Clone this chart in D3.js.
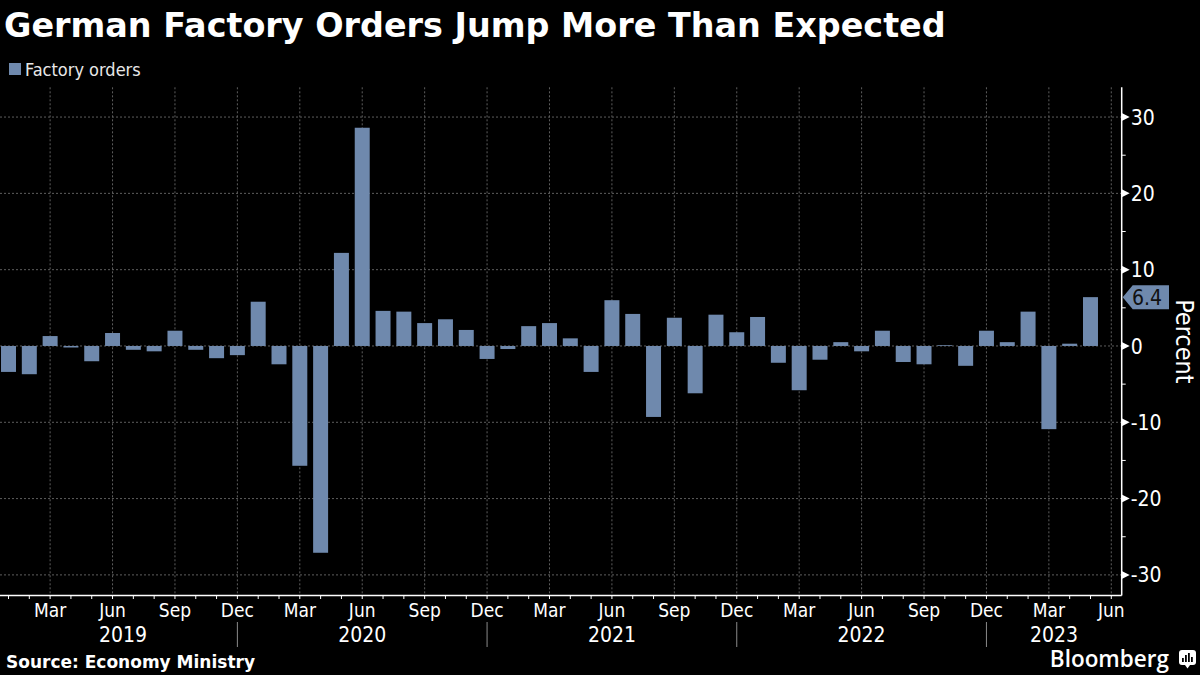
<!DOCTYPE html>
<html>
<head>
<meta charset="utf-8">
<script src="https://cdn.jsdelivr.net/npm/d3@7"></script>
<style>
  body { margin: 0; background: #000; }
  svg { display: block; }
</style>
</head>
<body>
<div id="place"></div>
<script>
// données (variation mensuelle, %)
const years = [2019, 2020, 2021, 2022, 2023];
const monthNames = ["Jan", "Feb", "Mar", "Apr", "May", "Jun", "Jul", "Aug", "Sep", "Oct", "Nov", "Dec"];
const lastMonth = "Jun 2023";
const orders = [
  -3.4, -3.7, 1.3, -0.2, -2.0, 1.7, -0.5, -0.7, 2.0, -0.5, -1.6, -1.2,
  5.8, -2.4, -15.7, -27.1, 12.2, 28.6, 4.6, 4.5, 3.0, 3.5, 2.1, -1.7,
  -0.4, 2.6, 3.0, 1.0, -3.4, 6.0, 4.2, -9.3, 3.7, -6.2, 4.1, 1.8,
  3.8, -2.2, -5.8, -1.8, 0.5, -0.7, 2.0, -2.1, -2.4, 0.1, -2.6, 2.0,
  0.5, 4.5, -10.9, 0.3, 6.4
];
const quarterLabels = ["Mar", "Jun", "Sep", "Dec"];
const yTicks = [-30, -20, -10, 0, 10, 20, 30];
const yMinorTicks = [-25, -15, -5, 5, 15, 25];

// tous les mois jusqu'a Jun 2023
let months = [];
years.forEach(y => monthNames.forEach(m => months.push(m + " " + y)));
months = months.slice(0, months.indexOf(lastMonth) + 1);

const data = orders.map((v, i) => ({ month: months[i], value: v }));

const barColor = "#6f89ad";
const condensed = '"DejaVu Sans Condensed", "DejaVu Sans", sans-serif';
const bold = '"DejaVu Sans", sans-serif';

const W = 1200, H = 675;
const plotLeft = -1.9, plotRight = 1121.7, plotTop = 87.3, plotBottom = 595.5;

const svg = d3.select("#place").append("svg")
  .attr("width", W)
  .attr("height", H)
  .style("background", "#000");

const x = d3.scaleBand()
  .domain(months)
  .range([plotLeft, plotRight])
  .paddingInner(0.28)
  .paddingOuter(0.14);

const y = d3.scaleLinear()
  .domain([-32.7, 33.9])
  .range([plotBottom, plotTop]);

const cx = m => x(m) + x.bandwidth() / 2;

// titre + légende
svg.append("text")
  .attr("x", 4).attr("y", 37)
  .attr("fill", "#fff")
  .style("font-family", bold).style("font-weight", "bold").style("font-size", "33.4px")
  .text("German Factory Orders Jump More Than Expected");

svg.append("rect")
  .attr("x", 9).attr("y", 63).attr("width", 12).attr("height", 12)
  .attr("fill", barColor);
svg.append("text")
  .attr("x", 25).attr("y", 76)
  .attr("fill", "#e8e8e8")
  .style("font-family", condensed).style("font-size", "18px")
  .text("Factory orders");

// grille
const grid = svg.append("g")
  .attr("stroke", "#5e5e5e")
  .attr("stroke-width", 1)
  .attr("stroke-dasharray", "2,2");

grid.selectAll(".hgrid")
  .data(yTicks).enter()
  .append("line")
  .attr("x1", 0).attr("x2", plotRight)
  .attr("y1", d => y(d)).attr("y2", d => y(d));

const quarterMonths = months.filter(m => quarterLabels.includes(m.split(" ")[0]));

grid.selectAll(".vgrid")
  .data(quarterMonths).enter()
  .append("line")
  .attr("x1", d => cx(d)).attr("x2", d => cx(d))
  .attr("y1", plotTop).attr("y2", plotBottom);

// barres
svg.append("g").selectAll("rect")
  .data(data).enter()
  .append("rect")
  .attr("x", d => x(d.month))
  .attr("width", x.bandwidth())
  .attr("y", d => y(Math.max(0, d.value)))
  .attr("height", d => Math.abs(y(d.value) - y(0)))
  .attr("fill", barColor);

// axe x
svg.append("line")
  .attr("x1", 0).attr("x2", plotRight)
  .attr("y1", plotBottom).attr("y2", plotBottom)
  .attr("stroke", "#fff").attr("stroke-width", 1.5);

svg.append("g").selectAll("line")
  .data(months).enter()
  .append("line")
  .attr("x1", d => cx(d)).attr("x2", d => cx(d))
  .attr("y1", plotBottom).attr("y2", plotBottom + 3.5)
  .attr("stroke", "#fff");

svg.append("g").selectAll("text")
  .data(quarterMonths).enter()
  .append("text")
  .attr("x", d => cx(d))
  .attr("y", 617)
  .attr("text-anchor", "middle")
  .attr("fill", "#fff")
  .style("font-family", condensed).style("font-size", "19px")
  .text(d => d.split(" ")[0]);

// séparateurs d'années (sous Dec) et années
const decMonths = months.filter(m => m.startsWith("Dec"));
svg.append("g").selectAll("line")
  .data(decMonths).enter()
  .append("line")
  .attr("x1", d => cx(d)).attr("x2", d => cx(d))
  .attr("y1", 622).attr("y2", 647)
  .attr("stroke", "#8a8a8a");

svg.append("g").selectAll("text")
  .data(years).enter()
  .append("text")
  .attr("x", yr => {
    const a = yr === years[0] ? cx("Jan " + yr) : cx("Dec " + (yr - 1));
    const b = months.includes("Dec " + yr) ? cx("Dec " + yr) : plotRight;
    return (a + b) / 2;
  })
  .attr("y", 642)
  .attr("text-anchor", "middle")
  .attr("fill", "#fff")
  .style("font-family", condensed).style("font-size", "21px")
  .text(d => d);

// axe y (à droite)
svg.append("line")
  .attr("x1", plotRight).attr("x2", plotRight)
  .attr("y1", plotTop).attr("y2", plotBottom)
  .attr("stroke", "#fff").attr("stroke-width", 1.5);

svg.append("g").selectAll("path")
  .data(yTicks).enter()
  .append("path")
  .attr("d", d => `M${plotRight},${y(d) - 4}L${plotRight + 8},${y(d)}L${plotRight},${y(d) + 4}Z`)
  .attr("fill", "#fff");

svg.append("g").selectAll("line")
  .data(yMinorTicks).enter()
  .append("line")
  .attr("x1", plotRight).attr("x2", plotRight + 4)
  .attr("y1", d => y(d)).attr("y2", d => y(d))
  .attr("stroke", "#fff");

svg.append("g").selectAll("text")
  .data(yTicks).enter()
  .append("text")
  .attr("x", plotRight + 9)
  .attr("y", d => y(d))
  .attr("dy", "0.36em")
  .attr("fill", "#fff")
  .style("font-family", condensed).style("font-size", "21px")
  .text(d => String(d));

svg.append("text")
  .attr("transform", `translate(1176,${(plotTop + plotBottom) / 2}) rotate(90)`)
  .attr("text-anchor", "middle")
  .attr("fill", "#fff")
  .style("font-family", condensed).style("font-size", "25px")
  .text("Percent");

// étiquette de la dernière valeur
const last = data[data.length - 1];
const ly = y(last.value);
svg.append("path")
  .attr("d", `M${plotRight + 1},${ly}L${plotRight + 11},${ly - 12}L1169,${ly - 12}L1169,${ly + 12}L${plotRight + 11},${ly + 12}Z`)
  .attr("fill", barColor);
svg.append("text")
  .attr("x", 1132).attr("y", ly)
  .attr("dy", "0.36em")
  .attr("fill", "#111")
  .style("font-family", condensed).style("font-size", "21px")
  .text(last.value.toFixed(1));

// source + logo
svg.append("text")
  .attr("x", 6).attr("y", 668)
  .attr("fill", "#fff")
  .style("font-family", bold).style("font-weight", "bold").style("font-size", "17px")
  .text("Source: Economy Ministry");

svg.append("text")
  .attr("x", 1169).attr("y", 667)
  .attr("text-anchor", "end")
  .attr("fill", "#fff")
  .style("font-family", '"Open Sans", sans-serif').style("font-weight", "600").style("font-size", "22.5px")
  .text("Bloomberg");

const logo = svg.append("g").attr("transform", "translate(1179,650)");
logo.append("rect").attr("width", 17).attr("height", 15).attr("rx", 3).attr("fill", "#fff");
logo.append("path").attr("d", "M6,15L8.5,18.5L11,15Z").attr("fill", "#fff");
[[4, 8], [7, 5], [10, 3], [13, 7]].forEach(([bx, by]) => {
  logo.append("rect").attr("x", bx - 1).attr("y", by).attr("width", 1.8).attr("height", 12 - by).attr("fill", "#000");
});
</script>
</body>
</html>
